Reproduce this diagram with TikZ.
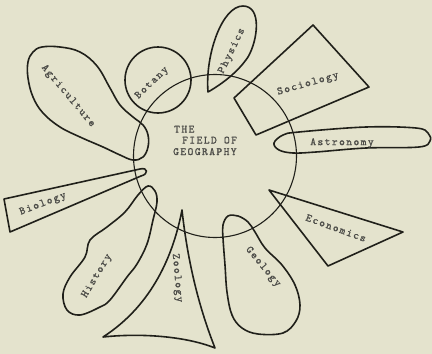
\documentclass[tikz,border=0pt]{standalone}
\usepackage{fontspec}
\newfontfamily\tw[LetterSpace=13,FakeBold=1.2]{Latin Modern Mono}
\definecolor{paper}{RGB}{228,227,205}
\definecolor{ink}{RGB}{32,32,26}
\begin{document}
\begin{tikzpicture}[x=1pt,y=-1pt,
  shp/.style={draw=ink,line width=1.6pt,line join=round},
  lab/.style={text=ink!80,font=\tw\fontsize{11}{12}\selectfont,inner sep=0pt}]
\fill[paper] (0,0) rectangle (432,354);
\useasboundingbox (0,0) rectangle (432,354);
% main circle
\draw[draw=ink,line width=1.1pt] (215,156) circle[radius=81.5];
% Agriculture
\draw[shp] plot[smooth cycle,tension=0.65] coordinates {(143,125) (148,135) (148,147) (143,157) (133,160) (120,155) (103,147) (80,137) (60,127) (43,113) (33,97) (28,78) (28,62) (33,52) (42,47) (60,47) (80,52) (97,66) (110,88) (120,105) (133,117)};
% Botany
\draw[shp] (158,80) circle[radius=33];
% Physics
\draw[shp] (208,92) .. controls (205,55) and (222,6) .. (243,6)
  .. controls (262,6) and (258,40) .. (248,57)
  .. controls (238,72) and (222,84) .. (208,92) -- cycle;
% Sociology
\draw[shp] (234,98) -- (313,25) -- (369,87) -- (256,135) -- cycle;
% Astronomy
\draw[shp] plot[smooth cycle,tension=0.6] coordinates {(274,143) (283,135) (299,132) (366,127) (416,128) (428,133) (430,141) (419,147) (366,148) (316,152) (293,153) (279,150)};
% Economics
\draw[shp] (269,190) -- (403,232) -- (328,266) -- cycle;
% Geology
\draw[shp] plot[smooth cycle,tension=0.6] coordinates {(228,216) (238,216) (248,222) (255,232) (265,248) (282,265) (295,285) (300,305) (296,321) (283,333) (258,334) (242,328) (232,315) (227,292) (225,265) (223,238) (223,225)};
% Zoology
\draw[shp] (182,210) .. controls (172,262) and (148,308) .. (103,337)
  .. controls (140,333) and (185,336) .. (215,348)
  .. controls (200,310) and (188,265) .. (182,210) -- cycle;
% History
\draw[shp] plot[smooth cycle,tension=0.6] coordinates {(148,186) (155,191) (157,202) (153,220) (147,244) (137,264) (127,277) (110,300) (100,307) (80,315) (67,310) (63,294) (70,277) (85,257) (90,240) (107,227) (125,212) (138,195)};
% Biology
\draw[shp] (4,199) -- (140,169) .. controls (148,167) and (149,174) .. (141,176) -- (10,232) -- cycle;
% labels
\node[lab,anchor=base west] (the) at (174,132.5) {THE};
\node[lab,anchor=base west] (field) at (182,143.5) {FIELD OF};
\node[lab,anchor=base west] (geo) at (173,155) {GEOGRAPHY};
\node[lab,rotate=-50] (agri) at (68,96) {Agriculture};
\node[lab,rotate=44] (bot) at (152,83) {Botany};
\node[lab,rotate=64] (phy) at (232,51) {Physics};
\node[lab,rotate=16] (soc) at (308,84) {Sociology};
\node[lab] (ast) at (342,143) {Astronomy};
\node[lab,rotate=-20] (eco) at (336,228) {Economics};
\node[lab,rotate=-50] (geol) at (263,267) {Geology};
\node[lab,rotate=-85] (zoo) at (177,278) {Zoology};
\node[lab,rotate=59] (hist) at (97,276) {History};
\node[lab,rotate=21] (bio) at (43,204) {Biology};
\end{tikzpicture}
\end{document}
